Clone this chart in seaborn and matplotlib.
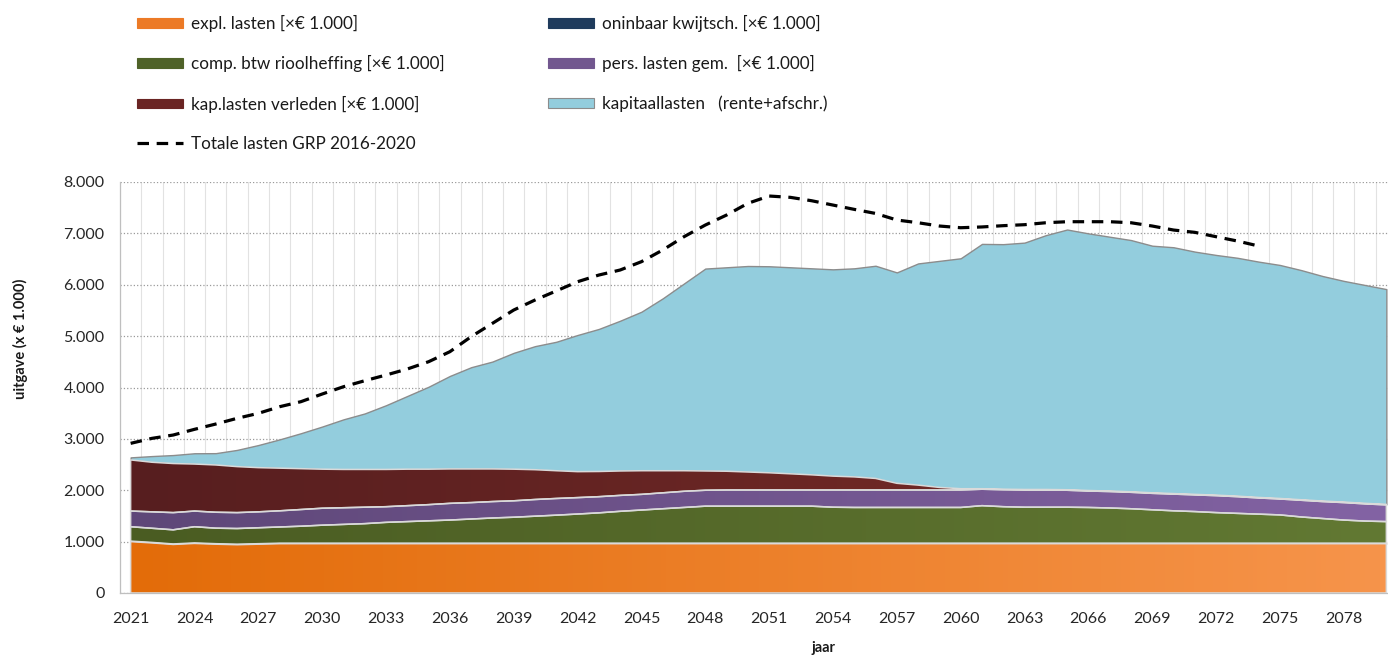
import numpy as np
import pandas as pd
import seaborn as sns
import matplotlib
matplotlib.use("Agg")
import matplotlib.pyplot as plt
from matplotlib.patches import Patch
from matplotlib.lines import Line2D
from matplotlib.colors import LinearSegmentedColormap
from matplotlib.ticker import FuncFormatter

years = list(range(2021, 2081))

expl = [1000, 975, 945, 965, 950, 940, 950, 960, 960, 960,
        960, 960, 960, 960, 960, 960, 960, 960, 960, 960,
        960, 960, 960, 960, 960, 960, 960, 960, 960, 960,
        960, 960, 960, 960, 960, 960, 960, 960, 960, 960,
        960, 960, 960, 960, 960, 960, 960, 960, 960, 960,
        960, 960, 960, 960, 960, 960, 960, 960, 960, 960]
oninbaar = [10, 10, 10, 10, 10, 10, 10, 10, 10, 10,
            10, 10, 10, 10, 10, 10, 10, 10, 10, 10,
            10, 10, 10, 10, 10, 10, 10, 10, 10, 10,
            10, 10, 10, 10, 10, 10, 10, 10, 10, 10,
            10, 10, 10, 10, 10, 10, 10, 10, 10, 10,
            10, 10, 10, 10, 10, 10, 10, 10, 10, 10]
comp_btw = [280, 275, 275, 315, 302, 305, 310, 315, 330, 350,
            365, 380, 405, 420, 435, 450, 470, 490, 505, 525,
            545, 567, 590, 620, 645, 670, 695, 720, 720, 720,
            720, 720, 720, 700, 695, 695, 695, 695, 695, 695,
            730, 710, 700, 700, 700, 695, 685, 670, 650, 630,
            615, 595, 580, 565, 550, 510, 480, 450, 430, 420]
pers_lasten = [305, 320, 335, 305, 310, 310, 310, 315, 325, 330,
               325, 320, 305, 310, 315, 325, 320, 320, 320, 325,
               325, 320, 315, 310, 305, 310, 315, 310, 315, 315,
               315, 315, 315, 335, 340, 340, 340, 340, 340, 340,
               320, 330, 335, 335, 330, 320, 320, 320, 320, 325,
               325, 330, 325, 315, 310, 325, 330, 340, 335, 325]
kap_verleden = [995, 965, 955, 915, 920, 895, 860, 830, 795, 760,
                745, 735, 725, 710, 690, 670, 655, 635, 615, 580,
                540, 505, 490, 475, 460, 430, 400, 375, 365, 350,
                335, 315, 295, 270, 255, 225, 130, 95, 50, 25,
                10, 10, 10, 10, 10, 10, 10, 10, 10, 10,
                10, 10, 10, 10, 10, 10, 10, 10, 10, 10]
kapitaallasten = [50, 120, 165, 210, 230, 325, 440, 560, 690, 830,
                  975, 1090, 1250, 1425, 1605, 1810, 1980, 2090, 2265, 2405,
                  2510, 2660, 2775, 2925, 3095, 3355, 3645, 3940, 3970, 4010,
                  4020, 4020, 4020, 4025, 4060, 4140, 4105, 4315, 4410, 4485,
                  4765, 4770, 4805, 4950, 5065, 5005, 4950, 4900, 4810, 4795,
                  4725, 4675, 4640, 4590, 4545, 4470, 4380, 4305, 4250, 4190]

grp_years = list(range(2021, 2075))
grp_totaal = [2913, 3010, 3075, 3186, 3289, 3400, 3497, 3626, 3724, 3873,
              4015, 4132, 4243, 4360, 4502, 4697, 4990, 5249, 5508, 5703,
              5880, 6059, 6189, 6287, 6449, 6676, 6935, 7162, 7357, 7585,
              7727, 7701, 7635, 7551, 7467, 7388, 7260, 7207, 7143, 7110,
              7125, 7150, 7169, 7207, 7227, 7227, 7227, 7207, 7143, 7065,
              7020, 6935, 6851, 6754]

labels = ["expl. lasten [×€ 1.000]", "oninbaar kwijtsch. [×€ 1.000]",
          "comp. btw rioolheffing [×€ 1.000]", "pers. lasten gem.  [×€ 1.000]",
          "kap.lasten verleden [×€ 1.000]", "kapitaallasten   (rente+afschr.)"]
grp_label = "Totale lasten GRP 2016-2020"

# left/right colours for the excel-like gradients
grad_cols = [("#E36C09", "#F6944B"), None, ("#4A5C22", "#627933"),
             ("#5E4778", "#8363A4"), ("#571E1F", "#7C2E29"), None]
flat_cols = ["#EC7A26", "#1F3B5C", "#4F6228", "#72578F", "#6A2423", "#93CDDD"]

sns.set_theme(style="white")
plt.rcParams["font.family"] = ["Lato", "DejaVu Sans"]

fig = plt.figure(figsize=(13.88, 6.6), dpi=100)
ax = fig.add_axes([120 / 1388, 67 / 660, 1277 / 1388, 411 / 660])

polys = ax.stackplot(years, expl, oninbaar, comp_btw, pers_lasten, kap_verleden,
                     kapitaallasten, colors=flat_cols, edgecolor="#DADADA",
                     linewidth=1.1, zorder=2)
polys[-1].set_edgecolor("#8C8C8C")
polys[-1].set_linewidth(1.0)

grad = np.linspace(0, 1, 256).reshape(1, -1)
for poly, gc in zip(polys, grad_cols):
    if gc is None:
        continue
    poly.set_facecolor("none")
    poly.set_zorder(3)
    cmap = LinearSegmentedColormap.from_list("g", list(gc))
    im = ax.imshow(grad, cmap=cmap, aspect="auto", origin="lower",
                   extent=[years[0], years[-1], 0, 8000], zorder=2,
                   interpolation="bilinear")
    im.set_clip_path(poly.get_paths()[0], transform=ax.transData)

df = pd.DataFrame({"jaar": grp_years, "totaal": grp_totaal})
sns.lineplot(data=df, x="jaar", y="totaal", ax=ax, color="black",
             linewidth=2.3, linestyle=(0, (3.6, 2.4)), zorder=5)

ax.set_xlim(2020.5, 2080.5)
ax.set_ylim(0, 8000)
ax.set_yticks(range(0, 8001, 1000))
ax.yaxis.set_major_formatter(FuncFormatter(lambda v, p: f"{v:,.0f}".replace(",", ".")))
ax.set_xticks(range(2021, 2080, 3))
ax.set_xticks(np.arange(2020.5, 2081, 1), minor=True)
ax.set_axisbelow(True)
ax.yaxis.grid(True, linestyle=":", color="#9A9A9A", linewidth=0.9)
ax.xaxis.grid(True, which="minor", color="#E2E2E2", linewidth=0.8)
ax.xaxis.grid(False, which="major")
ax.tick_params(axis="both", which="both", length=0, labelsize=11.5,
               colors="#262626")
ax.tick_params(axis="x", pad=14)
ax.tick_params(axis="y", pad=11)
for s in ["top", "right"]:
    ax.spines[s].set_visible(False)
for s in ["left", "bottom"]:
    ax.spines[s].set_color("#BFBFBF")
    ax.spines[s].set_linewidth(0.9)

ax.set_xlabel("jaar", fontsize=10.5, fontweight="bold", color="#1a1a1a")
ax.xaxis.set_label_coords(0.551, -0.118)
ax.set_ylabel("uitgave (x € 1.000)", fontsize=10.5, fontweight="bold", color="#1a1a1a")
ax.yaxis.set_label_coords(-0.072, 0.618)

h = [Patch(facecolor=c, edgecolor="#8C8C8C" if i == 5 else c, linewidth=0.8)
     for i, c in enumerate(flat_cols)]
dash = Line2D([], [], color="black", linewidth=2.3, linestyle=(0, (3.6, 2.4)))
leg_kw = dict(loc="upper left", frameon=False, fontsize=12.3, handlelength=2.7,
              handleheight=0.48, handletextpad=0.48, labelspacing=1.36,
              borderpad=0, borderaxespad=0, labelcolor="#1a1a1a")
fig.legend(handles=[h[0], h[2], h[4], dash],
           labels=[labels[0], labels[2], labels[4], grp_label],
           bbox_to_anchor=(137 / 1388, 1 - 15 / 660), **leg_kw)
fig.legend(handles=[h[1], h[3], h[5]], labels=[labels[1], labels[3], labels[5]],
           bbox_to_anchor=(548 / 1388, 1 - 15 / 660), **leg_kw)

fig.savefig("out.png", dpi=100)
